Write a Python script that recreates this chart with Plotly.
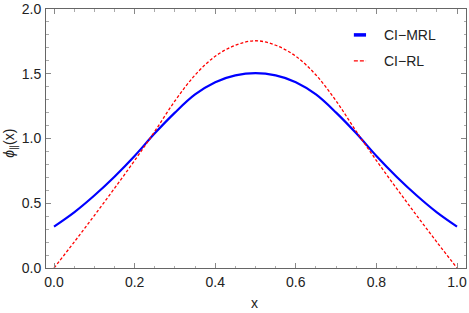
import plotly.graph_objects as go

x_vals = [0.0, 0.05, 0.10, 0.15, 0.20, 0.25, 0.30, 0.35, 0.40, 0.45, 0.50,
          0.55, 0.60, 0.65, 0.70, 0.75, 0.80, 0.85, 0.90, 0.95, 1.0]
ci_mrl = [0.32, 0.43, 0.56, 0.705, 0.865, 1.04, 1.20, 1.34, 1.435, 1.487, 1.505,
          1.487, 1.435, 1.34, 1.20, 1.04, 0.865, 0.705, 0.56, 0.43, 0.32]
ci_rl = [0.0, 0.20, 0.405, 0.615, 0.83, 1.055, 1.29, 1.49, 1.635, 1.72, 1.755,
         1.72, 1.635, 1.49, 1.29, 1.055, 0.83, 0.615, 0.405, 0.20, 0.0]
series_names = ["CI\u2212MRL", "CI\u2212RL"]
x_ticks = [0.0, 0.2, 0.4, 0.6, 0.8, 1.0]
x_tick_labels = ["0.0", "0.2", "0.4", "0.6", "0.8", "1.0"]
y_ticks = [0.0, 0.5, 1.0, 1.5, 2.0]
y_tick_labels = ["0.0", "0.5", "1.0", "1.5", "2.0"]

FONT = "Liberation Sans, Arial, sans-serif"
BLUE = "#0000FF"
RED = "#FF0000"

fig = go.Figure()
fig.add_trace(go.Scatter(x=x_vals, y=ci_mrl, mode="lines", name=series_names[0],
                         line=dict(color=BLUE, width=2.2, shape="spline", smoothing=1.0)))
fig.add_trace(go.Scatter(x=x_vals, y=ci_rl, mode="lines", name=series_names[1],
                         line=dict(color=RED, width=1.3, dash="3px,2px", shape="spline", smoothing=1.0)))

axis_common = dict(
    showline=True, linecolor="#666666", linewidth=1, mirror="allticks",
    ticks="inside", ticklen=5, tickwidth=0.8, tickcolor="#888888",
    showgrid=False, zeroline=False, automargin=False,
    tickfont=dict(family=FONT, size=14, color="#222222"),
)
fig.update_xaxes(range=[-0.0199, 1.0223], tickvals=x_ticks, ticktext=x_tick_labels,
                 ticklabelstandoff=1,
                 minor=dict(dtick=0.05, ticks="inside", ticklen=2.5, tickcolor="#aaaaaa", showgrid=False),
                 **axis_common)
fig.update_yaxes(range=[0, 2], tickvals=y_ticks, ticktext=y_tick_labels,
                 ticklabelstandoff=1,
                 minor=dict(dtick=0.1, ticks="inside", ticklen=2.5, tickcolor="#aaaaaa", showgrid=False),
                 **axis_common)

# axis titles
fig.add_annotation(text="x", xref="paper", yref="paper", x=0.497, y=-0.135,
                   xanchor="center", yanchor="middle", showarrow=False,
                   font=dict(family=FONT, size=14, color="#222222"))
fig.add_annotation(text="<i>\u03d5</i><sub>\u2225</sub>(x)", xref="paper", yref="paper",
                   x=-0.083, y=0.48, xanchor="center", yanchor="middle", textangle=-90,
                   showarrow=False, font=dict(family=FONT, size=14, color="#222222"))

# legend (drawn manually to mimic the short Mathematica-style samples)
leg_x0, leg_x1, leg_tx = 0.733, 0.762, 0.80
leg_y = [0.90, 0.80]
fig.add_shape(type="line", xref="paper", yref="paper", x0=leg_x0, x1=leg_x1,
              y0=leg_y[0], y1=leg_y[0], line=dict(color=BLUE, width=3.5))
fig.add_shape(type="line", xref="paper", yref="paper", x0=leg_x0, x1=leg_x1,
              y0=leg_y[1], y1=leg_y[1], line=dict(color=RED, width=1.3, dash="4px,2px"))
for name, yy in zip(series_names, leg_y):
    fig.add_annotation(text=name, xref="paper", yref="paper", x=leg_tx, y=yy,
                       xanchor="left", yanchor="middle", showarrow=False,
                       font=dict(family=FONT, size=14, color="#222222"))

fig.update_layout(
    width=469, height=313,
    margin=dict(l=46, r=3, t=9, b=45),
    paper_bgcolor="white", plot_bgcolor="white",
    showlegend=False,
)
fig.write_html("out.html", config={"displayModeBar": False},
               post_script="document.body.style.margin='0';document.body.style.padding='0';")
